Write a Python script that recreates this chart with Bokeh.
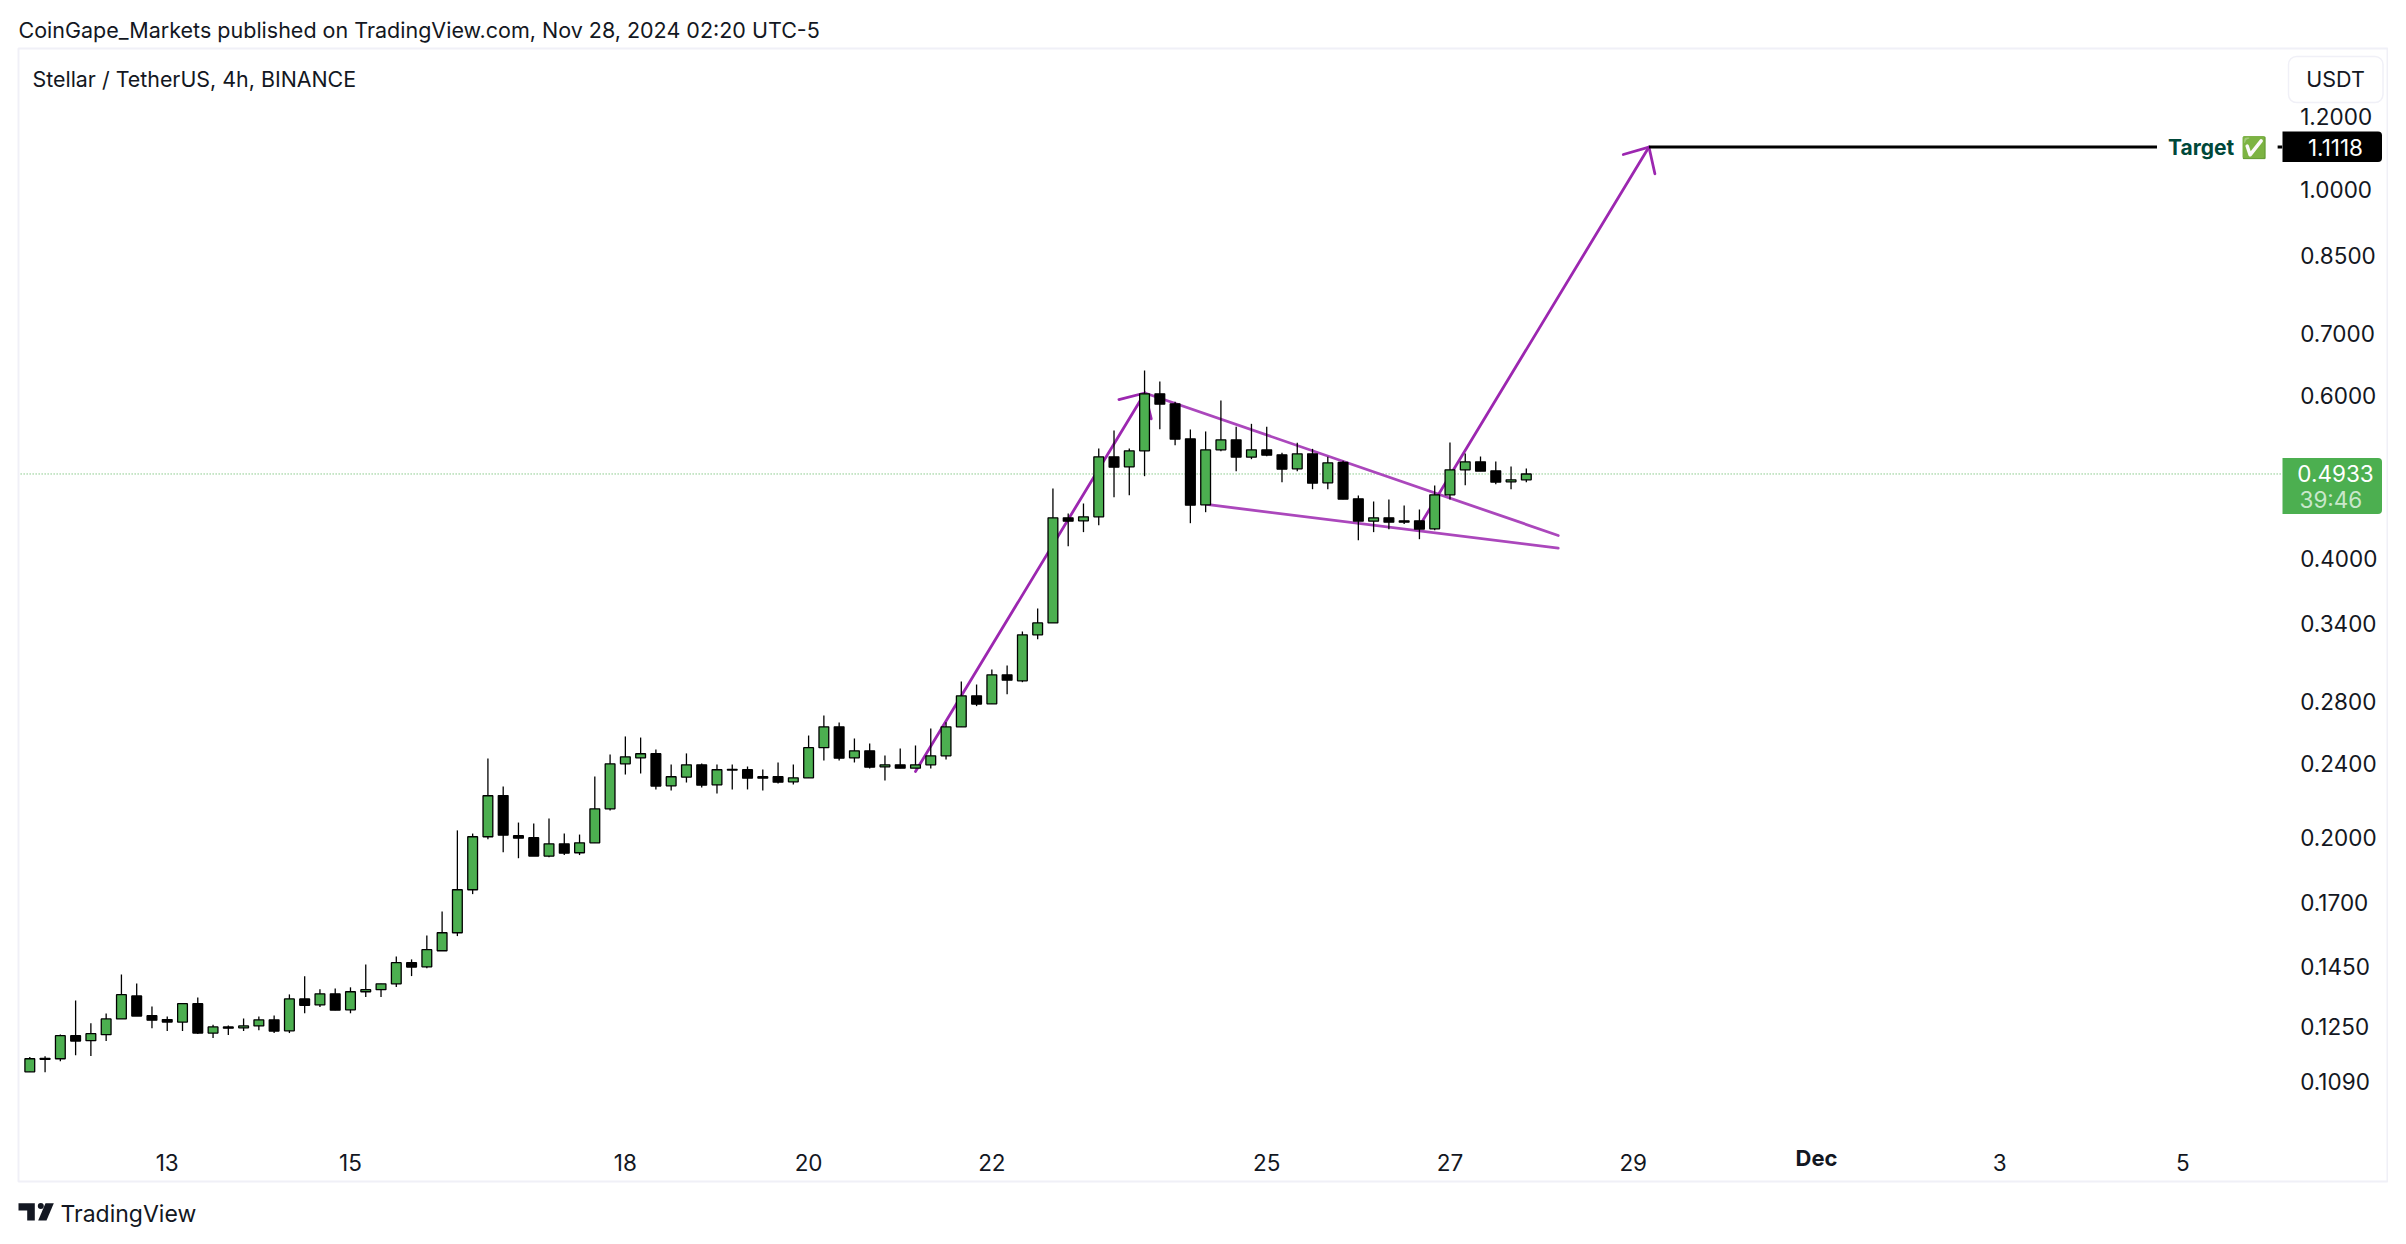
from bokeh.embed import file_html
from bokeh.resources import INLINE
from bokeh.plotting import figure
from bokeh.models import (BoxAnnotation, ColumnDataSource, FixedTicker, Label,
                          NumeralTickFormatter, PolyAnnotation, Range1d)

# ---------- data (4h XLM/USDT candles) ----------
opens = [.1116,.1154,.1153,.1221,.1206,.1224,.1273,.1348,.1283,.1271,
         .1263,.1322,.1229,.1248,.1245,.1251,.1270,.1236,.1338,.1318,
         .1355,.1302,.1362,.1369,.1389,.1464,.1449,.1508,.1577,.1755,
         .2002,.2218,.2007,.1997,.1908,.1967,.1924,.1972,.2146,.2400,
         .2436,.2461,.2272,.2322,.2394,.2278,.2367,.2365,.2324,.2324,
         .2295,.2318,.2498,.2631,.2436,.2479,.2382,.2394,.2374,.2394,
         .2448,.2631,.2842,.2786,.2994,.2950,.3307,.3407,.4424,.4391,
         .4435,.5148,.5021,.5225,.6021,.5873,.5383,.4569,.5238,.5370,
         .5144,.5238,.5174,.4997,.5186,.4826,.5076,.4638,.4387,.4424,
         .4391,.4391,.4304,.4684,.4984,.5084,.4972,.4838,.4862]
highs = [.1158,.1160,.1225,.1333,.1259,.1290,.1422,.1390,.1313,.1281,
         .1322,.1343,.1255,.1252,.1274,.1281,.1284,.1353,.1415,.1370,
         .1373,.1377,.1457,.1389,.1487,.1476,.1566,.1663,.2034,.2018,
         .2432,.2269,.2074,.2069,.2095,.2018,.2013,.2326,.2456,.2569,
         .2562,.2487,.2396,.2463,.2402,.2396,.2396,.2384,.2367,.2408,
         .2396,.2575,.2707,.2660,.2556,.2525,.2450,.2493,.2512,.2620,
         .2662,.2945,.2923,.3034,.3064,.3335,.3531,.4758,.4471,.4584,
         .5256,.5496,.5256,.6380,.6208,.5902,.5510,.5483,.5922,.5546,
         .5588,.5546,.5199,.5330,.5251,.5148,.5097,.4676,.4607,.4630,
         .4561,.4516,.4794,.5335,.5191,.5152,.5089,.5026,.5001]
lows = [.1116,.1115,.1146,.1163,.1161,.1205,.1273,.1282,.1244,.1235,
        .1235,.1226,.1214,.1223,.1235,.1238,.1229,.1229,.1291,.1311,
        .1301,.1291,.1344,.1344,.1378,.1416,.1444,.1508,.1564,.1736,
        .1990,.1927,.1898,.1908,.1903,.1913,.1913,.1972,.2137,.2337,
        .2343,.2252,.2246,.2291,.2263,.2230,.2252,.2252,.2246,.2286,
        .2280,.2318,.2420,.2420,.2408,.2372,.2303,.2374,.2374,.2372,
        .2426,.2631,.2770,.2786,.2854,.2940,.3272,.3407,.4123,.4269,
        .4344,.4657,.4680,.4906,.5514,.5299,.4365,.4486,.5221,.4968,
        .5118,.5156,.4834,.4968,.4750,.4750,.4634,.4185,.4269,.4301,
        .4355,.4195,.4290,.4630,.4798,.4968,.4810,.4750,.4834]
closes = [.1153,.1151,.1221,.1205,.1227,.1273,.1352,.1282,.1269,.1263,
          .1322,.1229,.1248,.1244,.1251,.1270,.1235,.1338,.1317,.1355,
          .1301,.1362,.1369,.1389,.1464,.1448,.1512,.1577,.1755,.2002,
          .2217,.2010,.1995,.1908,.1967,.1922,.1972,.2146,.2400,.2442,
          .2461,.2271,.2324,.2394,.2276,.2365,.2363,.2316,.2316,.2293,
          .2318,.2498,.2631,.2434,.2479,.2380,.2394,.2374,.2394,.2448,
          .2631,.2842,.2784,.2994,.2955,.3307,.3407,.4424,.4387,.4435,
          .5148,.5017,.5225,.6021,.5868,.5379,.4565,.5238,.5370,.5144,
          .5238,.5169,.4992,.5186,.4822,.5072,.4634,.4387,.4424,.4376,
          .4376,.4301,.4684,.4984,.5084,.4968,.4834,.4862,.4933]

price_ticks = [1.2, 1.0, .85, .7, .6, .4, .34, .28, .24, .2, .17, .145, .125, .109]
date_ticks = [9, 21, 39, 51, 63, 81, 93, 105, 129, 141]
date_labels = ["13", "15", "18", "20", "22", "25", "27", "29", "3", "5"]
dec_tick = 117
last_price = .4933
target_price = 1.1118

# drawn annotations: bar index / price pairs
flag_pole_x = [58, 73.02]
flag_pole_y = [.2355, .6033]
pole_head_x = [71.32, 73.02, 73.44]
pole_head_y = [.5936, .6033, .5658]
upper_trend_x = [73.02, 100.09]
upper_trend_y = [.6033, .4234]
lower_trend_x = [77.06, 100.09]
lower_trend_y = [.4573, .4102]
breakout_x = [91.1, 106.03]
breakout_y = [.4362, 1.1118]
breakout_head_x = [104.35, 106.03, 106.42]
breakout_head_y = [1.0914, 1.1118, 1.0403]
target_line_x = [106.03, 139.3]
target_dash_x = [147.2, 147.5]
pane_x = [-.6, 147.5]
axis_bar = 147.5
axis_price = .09527

# ---------- page geometry: the frame fills the whole canvas ----------
W, H = 2388, 1236
INK = "#131722"
GREEN = "#4caf50"
PURPLE = "#9c27b0"
TREND = "#ab47bc"
BORDER = "#f0f0f7"
FONT = "Inter"

p = figure(width=W, height=H, output_backend="svg", toolbar_location=None,
           y_axis_type="log", y_axis_location="right",
           x_range=Range1d(-1.9188, 154.46), y_range=Range1d(.07412, 1.6005),
           min_border_left=0, min_border_right=0, min_border_top=0, min_border_bottom=0,
           background_fill_color="white", border_fill_color="white")
p.outline_line_color = None
p.grid.visible = False

p.yaxis.ticker = FixedTicker(ticks=price_ticks)
p.yaxis.formatter = NumeralTickFormatter(format="0.0000")
p.xaxis.ticker = FixedTicker(ticks=date_ticks)
p.xaxis.major_label_overrides = dict(zip(date_ticks, date_labels))
p.yaxis.fixed_location = axis_bar
p.xaxis.fixed_location = axis_price
for ax in (p.xaxis[0], p.yaxis[0]):
    ax.axis_line_color = None
    ax.major_tick_line_color = None
    ax.minor_tick_line_color = None
    ax.major_label_text_font = FONT
    ax.major_label_text_font_size = "22.5px"
    ax.major_label_text_color = INK
p.yaxis.major_label_standoff = 12
p.xaxis.major_label_standoff = 12


def py(Y):
    return H - Y


def text(X, Y, s, size=22.5, color=INK, style="normal", align="left"):
    p.add_layout(Label(x=X, y=py(Y), x_units="screen", y_units="screen", text=s,
                       text_font=FONT, text_font_size=f"{size}px", text_color=color,
                       text_font_style=style, text_align=align, text_baseline="middle",
                       level="overlay"))


def box(X0, X1, Y0, Y1, fill=None, line=None, lw=1, radius=0):
    p.add_layout(BoxAnnotation(left=X0, right=X1, top=py(Y0), bottom=py(Y1),
                               left_units="screen", right_units="screen",
                               top_units="screen", bottom_units="screen",
                               fill_color=fill, fill_alpha=1 if fill else 0,
                               line_color=line, line_width=lw, line_alpha=1 if line else 0,
                               border_radius=radius, level="annotation"))


p.line(pane_x, [last_price] * 2, line_color=GREEN, line_width=1, line_dash="1 2")

# ---------- drawings (below the candles) ----------
for xs, ys, col in ((flag_pole_x, flag_pole_y, PURPLE), (pole_head_x, pole_head_y, PURPLE),
                    (upper_trend_x, upper_trend_y, TREND), (lower_trend_x, lower_trend_y, TREND),
                    (breakout_x, breakout_y, PURPLE), (breakout_head_x, breakout_head_y, PURPLE)):
    p.line(xs, ys, line_color=col, line_width=2.8, line_cap="round", line_join="round")
p.line(target_line_x, [target_price] * 2, line_color="black", line_width=3)
p.line(target_dash_x, [target_price] * 2, line_color="black", line_width=3)

# ---------- candles ----------
idx = list(range(len(opens)))
up = [o <= c for o, c in zip(opens, closes)]
src = ColumnDataSource(dict(
    x=idx, high=highs, low=lows,
    top=[max(o, c) for o, c in zip(opens, closes)],
    bottom=[min(o, c) for o, c in zip(opens, closes)],
    color=[GREEN if u else "black" for u in up]))
p.segment("x", "low", "x", "high", source=src, line_color="black", line_width=1.3)
p.vbar(x="x", top="top", bottom="bottom", width=.64, source=src,
       fill_color="color", line_color="black", line_width=1.3)

# ---------- page furniture ----------
box(18, 2387, 48, 1181, line=BORDER, lw=2)
text(18, 29, "CoinGape_Markets published on TradingView.com, Nov 28, 2024 02:20 UTC-5", 21.5)
text(32, 78, "Stellar / TetherUS, 4h, BINANCE", 21.4)
box(2288, 2382.5, 56, 102, line=BORDER, lw=1.5, radius=8)
text(2335, 78, "USDT", 21.5, align="center")

box(2282, 2381.5, 131, 161.5, fill="black", radius=(0, 4, 4, 0))
text(2335, 146.5, "1.1118", color="white", align="center")
box(2282, 2381.5, 457.5, 513.5, fill=GREEN, radius=(0, 4, 4, 0))
text(2335, 473, "0.4933", color="white", align="center")
text(2299, 498.5, "39:46", color="#c9e7cb")
text(2167.5, 146.5, "Target", 21, color="#00483a", style="bold")
text(2240, 146.5, "\u2705", 21, color=GREEN)
p.add_layout(Label(x=dec_tick, y=py(1157), y_units="screen", text="Dec", text_font=FONT,
                   text_font_size="22px", text_font_style="bold", text_color=INK,
                   text_align="center", text_baseline="middle"))

# TradingView logo and name
logo = dict(xs_units="screen", ys_units="screen", fill_color=INK, fill_alpha=1, line_color=None)
T_x = [18, 34.3, 34.3, 26.7, 26.7, 18]
T_y = [1202.7, 1202.7, 1220, 1220, 1210, 1210]
S_x = [45, 53.3, 46, 37.7]
S_y = [1202.7, 1202.7, 1220, 1220]
p.add_layout(PolyAnnotation(xs=T_x, ys=[py(v) for v in T_y], **logo))
p.add_layout(PolyAnnotation(xs=S_x, ys=[py(v) for v in S_y], **logo))
box(37.3, 43.3, 1202.5, 1208.5, fill=INK, radius=3)
text(60, 1213, "TradingView", 23)

open("out.html", "w").write(file_html(p, INLINE))
